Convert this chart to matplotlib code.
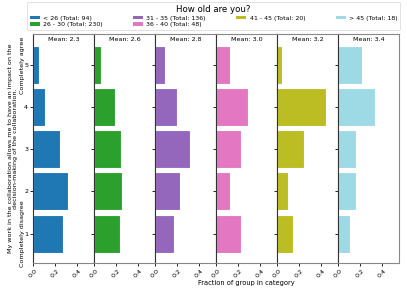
import numpy as np
import matplotlib
matplotlib.use('Agg')
import matplotlib.pyplot as plt
from matplotlib.patches import Patch

groups = ['< 26', '26 - 30', '31 - 35', '36 - 40', '41 - 45', '> 45']
totals = [94, 230, 136, 48, 20, 18]
# answer counts for 1..5
counts_lt26 = [26, 30, 23, 10, 5]
counts_26_30 = [54, 59, 57, 45, 15]
counts_31_35 = [23, 31, 43, 27, 12]
counts_36_40 = [11, 6, 11, 14, 6]
counts_41_45 = [3, 2, 5, 9, 1]
counts_gt45 = [2, 3, 3, 6, 4]
levels = [1, 2, 3, 4, 5]
colors = ['#1f77b4', '#2ca02c', '#9467bd', '#e377c2', '#bcbd22', '#9edae5']

all_counts = [counts_lt26, counts_26_30, counts_31_35, counts_36_40, counts_41_45, counts_gt45]

fig, axes = plt.subplots(1, 6, sharey=True, figsize=(4.07, 2.91), dpi=100)
fig.subplots_adjust(left=0.081, right=0.980, top=0.883, bottom=0.096, wspace=0)

for ax, cnt, tot, col in zip(axes, all_counts, totals, colors):
    cnt = np.array(cnt)
    frac = cnt / tot
    ax.barh(levels, frac, height=0.9, color=col, edgecolor='white', linewidth=0.8)
    mean = (cnt * np.array(levels)).sum() / tot
    mean = int(mean * 10 + 0.5) / 10
    ax.text(0.5, 0.985, 'Mean: {:.1f}'.format(mean), transform=ax.transAxes,
            ha='center', va='top', fontsize=4.6)
    ax.set_xlim(0, 0.555)
    ax.set_xticks([0, 0.2, 0.4])
    ax.set_xticklabels(['0.0', '0.2', '0.4'], rotation=45, fontsize=4.6)
    ax.tick_params(axis='both', length=2, width=0.6, pad=1.5, labelsize=4.6)
    for s in ['top', 'right', 'bottom']:
        ax.spines[s].set_color('#888888')
        ax.spines[s].set_linewidth(0.8)
    ax.spines['left'].set_color('#333333')
    ax.spines['left'].set_linewidth(0.8)

axes[0].set_ylim(0.3, 5.73)
axes[0].set_yticks(levels)
axes[0].set_yticklabels([str(l) for l in levels])
axes[0].set_ylabel('My work in the collaboration allows me to have an impact on the\n'
                   'decision-making of the collaboration.', fontsize=4.6)
axes[0].yaxis.set_label_coords(-0.24, 0.5)
axes[0].text(-0.17, 1, 'Completely disagree', transform=axes[0].get_yaxis_transform(),
             rotation=90, ha='center', va='center', fontsize=4.6)
axes[0].text(-0.17, 5, 'Completely agree', transform=axes[0].get_yaxis_transform(),
             rotation=90, ha='center', va='center', fontsize=4.6)
axes[3].set_xlabel('Fraction of group in category', fontsize=4.8, labelpad=1)

handles = [Patch(facecolor=c, edgecolor='none') for c in colors]
labels = ['{} (Total: {})'.format(g, t) for g, t in zip(groups, totals)]
leg = fig.legend(handles, labels, ncol=4, title='How old are you?', fontsize=4.5,
                 title_fontsize=6.2, loc='lower left', mode='expand',
                 bbox_to_anchor=(0.067, 0.897, 0.916, 0.093),
                 handlelength=1.6, handleheight=0.5, borderpad=0.4,
                 labelspacing=0.3, handletextpad=0.5, framealpha=1,
                 edgecolor='#dddddd', borderaxespad=0)
leg.get_frame().set_linewidth(0.6)

fig.savefig('out.png', dpi=100)
